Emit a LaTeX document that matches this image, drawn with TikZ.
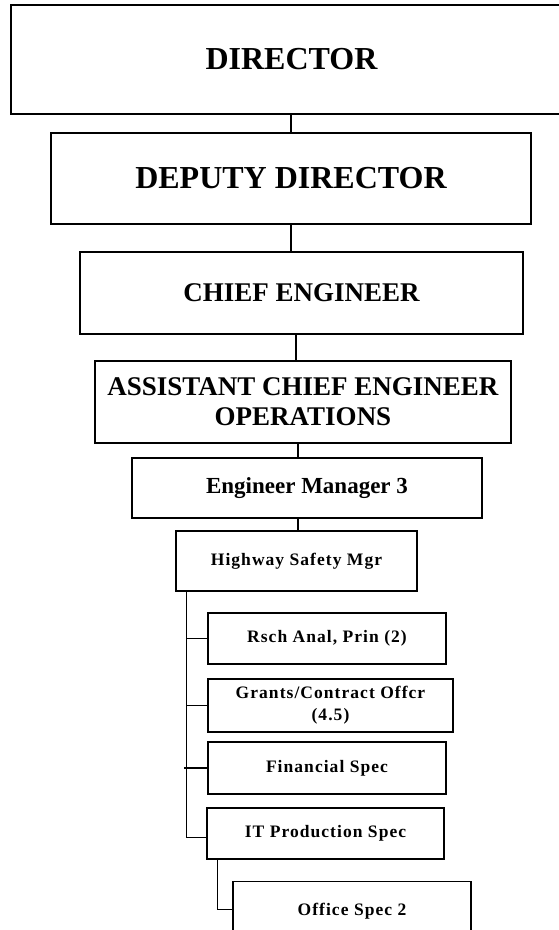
\documentclass[tikz,border=0pt]{standalone}
\usepackage{fontspec}
\setmainfont{Liberation Serif}
\newfontfamily\spacedfont{Liberation Serif}[LetterSpace=6]
\usetikzlibrary{positioning, calc}
\tikzset{
  rankbox/.style  = {draw, line width=1.4pt, inner sep=0pt, align=center},
  topbox/.style   = {rankbox, font=\bfseries\fontsize{32}{36}\selectfont},
  bigbox/.style   = {rankbox, font=\bfseries\fontsize{27}{30}\selectfont},
  midbox/.style   = {rankbox, font=\bfseries\fontsize{23}{26}\selectfont},
  staffbox/.style = {rankbox, font=\spacedfont\bfseries\fontsize{17.5}{22}\selectfont},
  link/.style     = {line width=1.4pt},
}
\begin{document}
\begin{tikzpicture}[x=1pt, y=-1pt]
\useasboundingbox (0,0) rectangle (558,930);

% chain of command
\node[topbox, minimum width=561pt, minimum height=109pt] (dir) at (291.5,59.5) {DIRECTOR};
\node[topbox, minimum width=480pt, minimum height=91pt] (dep) at (291,178.5) {DEPUTY DIRECTOR};
\node[bigbox, minimum width=443pt, minimum height=82pt] (chief) at (301.5,293) {CHIEF ENGINEER};
\node[bigbox, minimum width=416pt, minimum height=82pt] (asst) at (303,402)
   {ASSISTANT CHIEF ENGINEER\\ OPERATIONS};
\node[midbox, minimum width=350pt, minimum height=60pt] (em) at (307,488) {Engineer Manager 3};
\node[staffbox, minimum width=241pt, minimum height=60pt] (hsm) at (296.5,561) {Highway Safety Mgr};

% staff under the safety manager
\node[staffbox, minimum width=238pt, minimum height=51pt] (rsch) at (327,638.5) {Rsch Anal, Prin (2)};
\node[staffbox, minimum width=245pt, minimum height=53pt] (grants) at (330.5,705.5)
   {Grants/Contract Offcr\\ (4.5)};
\node[staffbox, minimum width=238pt, minimum height=52pt] (fin) at (327,768) {Financial Spec};
\node[staffbox, minimum width=237pt, minimum height=51pt] (it) at (325.5,833.5) {IT Production Spec};
\node[staffbox, minimum width=238pt, text height=34pt, text depth=40pt, anchor=north]
   (office) at (352,881) {Office Spec 2};

\draw[link] (dep.north) -- (dep.north |- dir.south);
\draw[link] (dep.south) -- (dep.south |- chief.north);
\draw[link] ([xshift=-5.5pt]chief.south) -- ([xshift=-5.5pt]chief.south |- asst.north);
\draw[link] ([xshift=-5pt]asst.south) -- ([xshift=-5pt]asst.south |- em.north);
\draw[link] ([xshift=1.5pt]hsm.north) -- ([xshift=1.5pt]hsm.north |- em.south);

% side bus
\coordinate (bus) at ([xshift=11pt]hsm.south west);
\draw[link] (bus) |- ([yshift=-4pt]it.west);
\draw[link] (bus |- rsch.west) -- (rsch.west);
\draw[link] (bus |- grants.west) -- (grants.west);
\draw[link] ([xshift=-2pt]bus |- fin.west) -- ([xshift=2pt]fin.west);

\coordinate (bus2) at ([xshift=11pt]it.south west);
\draw[link] (bus2) |- ([xshift=2pt, yshift=9pt]office.west);
\end{tikzpicture}
\end{document}
